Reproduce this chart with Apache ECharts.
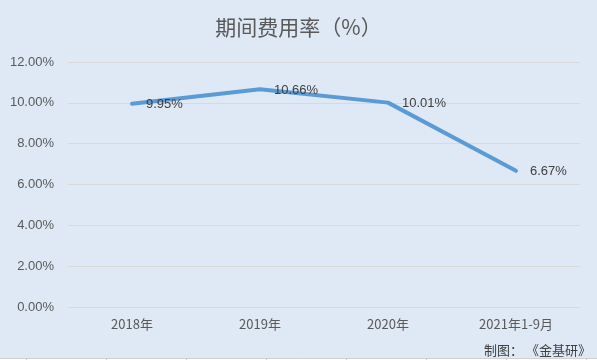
<!DOCTYPE html>
<html><head><meta charset="utf-8">
<script src="https://cdn.jsdelivr.net/npm/echarts@6/dist/echarts.min.js"></script>
<style>html,body{margin:0;padding:0;background:#dee9f5;}#c{width:597px;height:360px;}</style>
</head><body><div id="c"></div>
<script>
const categories = ['2018年', '2019年', '2020年', '2021年1-9月'];
const values = [9.95, 10.66, 10.01, 6.67];
const chart = echarts.init(document.getElementById('c'));
const deco = [
  { type: 'rect', shape: { x: 0, y: 358, width: 597, height: 2 }, style: { fill: '#ffffff' }, silent: true },
  { type: 'line', shape: { x1: 0, y1: 358.5, x2: 597, y2: 358.5 }, style: { stroke: '#d0d0d0', lineWidth: 1 }, silent: true }
];
for (let x = 26.5; x < 597; x += 80) {
  deco.push({ type: 'line', shape: { x1: x, y1: 359, x2: x, y2: 360 }, style: { stroke: '#c8c8c8', lineWidth: 1 }, silent: true });
}
chart.setOption({
  backgroundColor: '#dee9f5',
  animation: false,
  title: { text: '期间费用率（%）', left: 'center', top: 12,
    textStyle: { fontFamily: 'Noto Sans CJK SC', fontSize: 21, fontWeight: 'normal', color: '#595959' } },
  graphic: [{ type: 'text', right: 6, top: 344,
    style: { text: '制图： 《金基研》', fill: '#404040', font: '13px "Noto Sans CJK SC"' } }].concat(deco),
  grid: { left: 68, right: 17, top: 62, bottom: 53 },
  xAxis: { type: 'category', data: categories,
    axisLine: { show: true, lineStyle: { color: '#d9d9d9' } }, axisTick: { show: false },
    axisLabel: { color: '#595959', fontSize: 13, margin: 11, fontFamily: 'Noto Sans CJK SC' } },
  yAxis: { type: 'value', min: 0, max: 12, interval: 2,
    axisLine: { show: false }, axisTick: { show: false },
    splitLine: { lineStyle: { color: '#d9d9d9' } },
    axisLabel: { color: '#595959', fontSize: 13, margin: 14, fontFamily: 'Liberation Sans',
      formatter: v => v.toFixed(2) + '%' } },
  series: [{ type: 'line', data: values, symbol: 'circle', symbolSize: 2, showSymbol: true,
    itemStyle: { color: '#5b9bd5', borderWidth: 0 },
    lineStyle: { color: '#5b9bd5', width: 4, cap: 'round', join: 'round' },
    label: { show: true, position: 'right', distance: 13, offset: [0, 1], color: '#404040', fontSize: 13,
      fontFamily: 'Liberation Sans', formatter: p => p.value.toFixed(2) + '%' } }]
});
</script></body></html>
